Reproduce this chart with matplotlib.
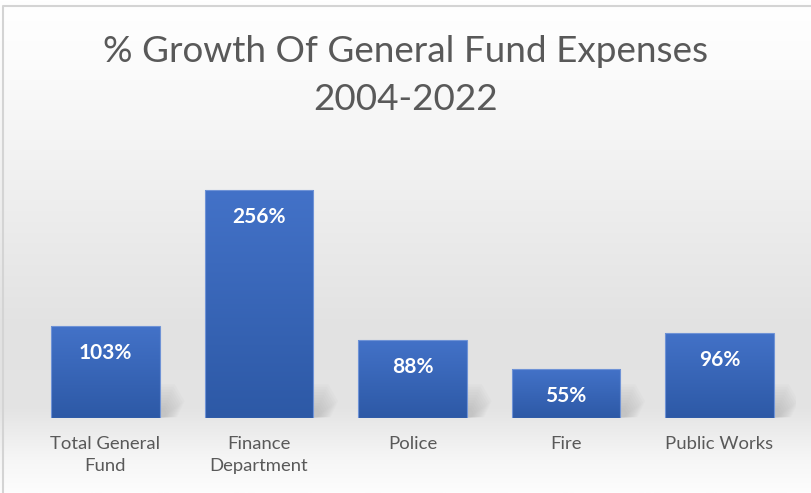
import numpy as np
import matplotlib
matplotlib.use("Agg")
import matplotlib.pyplot as plt
from matplotlib.colors import LinearSegmentedColormap
from matplotlib.patches import Polygon

categories = ["Total General\nFund", "Finance\nDepartment", "Police", "Fire", "Public Works"]
values = [103, 256, 88, 55, 96]
value_labels = ["103%", "256%", "88%", "55%", "96%"]
title_lines = ["% Growth Of General Fund Expenses", "2004-2022"]

W, H = 811, 493
fig = plt.figure(figsize=(W / 100, H / 100), dpi=100)
plt.rcParams['font.family'] = ['Lato', 'DejaVu Sans']

# background gradient
bg = fig.add_axes([0, 0, 1, 1], zorder=-10)
stops_y = np.array([0, 60, 200, 330, 410, 460, 493]) / H
stops_c = np.array([255, 252, 238, 226, 228, 246, 253]) / 255.0
yy = np.linspace(0, 1, 400)
g = np.interp(yy, stops_y, stops_c)
img = np.repeat(g[:, None], 2, axis=1)
bg.imshow(np.dstack([img, img, img]), extent=[0, 1, 1, 0], aspect='auto', interpolation='bilinear')
bg.set_xlim(0, 1)
bg.set_ylim(1, 0)
bg.axis('off')
bg.plot([3 / W, 3 / W, 1], [1, 5.5 / H, 5.5 / H], color='#d4d4d4', lw=1.5, clip_on=False)

# title
fig.text(0.5, 1 - 52 / H, title_lines[0], ha='center', va='center', fontsize=26.6, color='#595959')
fig.text(0.5, 1 - 100 / H, title_lines[1], ha='center', va='center', fontsize=26.6, color='#595959')

ax = fig.add_axes([28.75 / W, 1 - 418 / H, (796.25 - 28.75) / W, (418 - 151) / H])
ax.patch.set_alpha(0)
x = np.arange(len(categories))
bw = 0.71
bars = ax.bar(x, values, width=bw, color='none', edgecolor='#6f93d6', linewidth=0.8, zorder=3)
ax.set_xlim(-0.5, len(categories) - 0.5)
ax.set_ylim(0, 300)

cmap = LinearSegmentedColormap.from_list('b', ['#4372c8', '#2d59a6'])
grad = np.linspace(0, 1, 256)[:, None]
for b, lab in zip(bars, value_labels):
    x0, w, h = b.get_x(), b.get_width(), b.get_height()
    im = ax.imshow(grad, cmap=cmap, extent=[x0, x0 + w, 0, h], origin='upper', aspect='auto',
                   zorder=2, interpolation='bilinear')
    im.set_clip_path(b)
    # soft perspective shadow
    x1 = x0 + w
    for k in range(10):
        s = 1 - k * 0.08
        dx = 0.16 * s
        hh = 38 * s
        poly = Polygon([(x1 - 0.05, 0), (x1 + dx * 0.7, 1), (x1 + dx, hh * 0.5),
                        (x1 + dx * 0.6, hh), (x1 - 0.05, hh)],
                       closed=True, facecolor='#7a7a7a', edgecolor='none', alpha=0.03, zorder=1)
        ax.add_patch(poly)
    ax.annotate(lab, (x0 + w / 2, h), xytext=(0, -19.5), textcoords='offset points',
                ha='center', va='center', color='white', fontsize=15, fontweight='bold', zorder=5)

ax.set_xticks(x)
ax.set_xticklabels(categories, fontsize=13.3, color='#595959', linespacing=1.42)
ax.tick_params(axis='x', length=0, pad=13)
ax.set_yticks([])
for sp in ax.spines.values():
    sp.set_visible(False)

fig.savefig("out.png", dpi=100)
